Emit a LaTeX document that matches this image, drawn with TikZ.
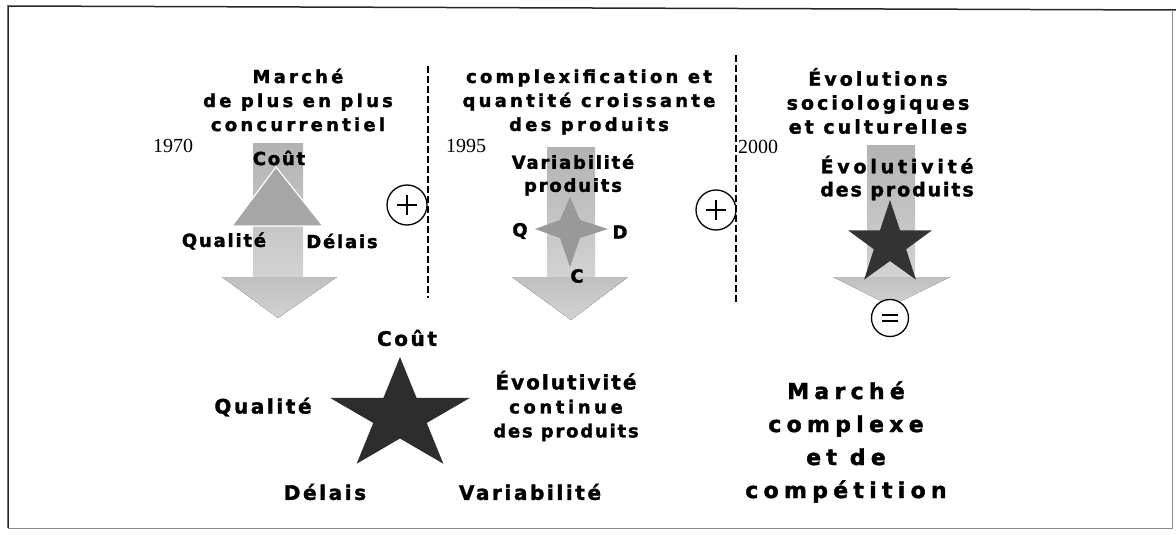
\documentclass[tikz,border=0pt]{standalone}
\usepackage{fontspec}
\setmainfont{Liberation Serif}
\newfontfamily\heavyA{DejaVu Sans}[UprightFont=* Bold, LetterSpace=18, FakeBold=1.6]
\newfontfamily\heavyB{DejaVu Sans}[UprightFont=* Bold, LetterSpace=10, FakeBold=1.6]
\newfontfamily\heavyC{DejaVu Sans}[UprightFont=* Bold, LetterSpace=13, FakeBold=1.6]
\newfontfamily\heavyD{DejaVu Sans}[UprightFont=* Bold, LetterSpace=24, FakeBold=1.8]
\newfontfamily\heavyE{DejaVu Sans}[UprightFont=* Bold, LetterSpace=16, FakeBold=1.6]
\newfontfamily\heavyF{DejaVu Sans}[UprightFont=* Bold, LetterSpace=20, FakeBold=1.6]
\newfontfamily\heavyG{DejaVu Sans}[UprightFont=* Bold, LetterSpace=20, FakeBold=1.6]
\newfontfamily\timesf{Liberation Serif}
\begin{document}
\begin{tikzpicture}[x=1pt,y=-1pt,
  title/.style={font=\heavyA\fontsize{18}{24}\selectfont, align=center, inner sep=0pt},
  titlethree/.style={font=\heavyE\fontsize{19}{24}\selectfont, align=center, inner sep=0pt},
  lbl/.style={font=\heavyB\fontsize{18}{23}\selectfont, align=center, inner sep=0pt},
  lblthree/.style={font=\heavyF\fontsize{19}{23}\selectfont, align=center, inner sep=0pt},
  big/.style={font=\heavyC\fontsize{20}{24}\selectfont, align=center, inner sep=0pt},
  huge/.style={font=\heavyD\fontsize{22}{33}\selectfont, align=center, inner sep=0pt},
  year/.style={font=\timesf\fontsize{20}{22}\selectfont, inner sep=0pt},
  shaft/.style={top color=gray!60, bottom color=gray!35, draw=none},
  head/.style={top color=gray!50, bottom color=gray!35, draw=none},
  sep/.style={line width=1.6pt, dash pattern=on 7pt off 3pt},
  opcircle/.style={circle, draw, line width=1.3pt, minimum size=40pt, inner sep=0pt}
]
\useasboundingbox (0,0) rectangle (1176,535);
% frame
\draw[line width=1.5pt, black!85] (8,528) -- (8,6) -- (1176,10);
\draw[line width=1pt, black!45] (8,528) -- (1172,528) -- (1172,10);

% separators
\coordinate (s1a) at (428,66);
\coordinate (s1b) at (428,298);
\coordinate (s2a) at (736,55);
\coordinate (s2b) at (736,305);
\draw[sep] (s1a) -- (s1b);
\draw[sep] (s2a) -- (s2b);

% ===== panel 1 =====
\fill[shaft] (253,143) rectangle (303,277);
\fill[head] (222,277) -- (337,277) -- (278,318) -- cycle;
\filldraw[fill=gray!70, draw=white, line width=1.2pt] (276,167) -- (323,226) -- (232,226) -- cycle;
\node[title] (t1) at (298,100) {Marché\\de plus en plus\\concurrentiel};
\node[year] (y1) at (173,146) {1970};
\node[lbl] (c1) at (279,158) {Coût};
\node[lbl] (q1) at (224,241) {Qualité};
\node[lbl] (d1) at (342,241) {Délais};
\node[opcircle] (p1) at (407,205) {};
\draw[line width=1.3pt] ([xshift=-10pt]p1.center) -- ([xshift=10pt]p1.center);
\draw[line width=1.3pt] ([yshift=-10pt]p1.center) -- ([yshift=10pt]p1.center);

% ===== panel 2 =====
\fill[shaft] (547,147) rectangle (595,277);
\fill[head] (512,277) -- (628,277) -- (571,320) -- cycle;
\fill[gray!80] (535,229) -- (560,220) -- (570,197) -- (580,220) -- (608,229) -- (580,238) -- (570,267) -- (560,238) -- cycle;
\node[title] (t2) at (589,102) {complexification et\\quantité croissante\\des produits};
\node[year] (y2) at (466,146) {1995};
\node[lbl] (v2) at (573,175) {Variabilité\\produits};
\node[lbl] (q2) at (520,231) {Q};
\node[lbl] (d2) at (620,232) {D};
\node[lbl] (k2) at (577,276) {C};
\node[opcircle] (p2) at (716,210) {};
\draw[line width=1.3pt] ([xshift=-10pt]p2.center) -- ([xshift=10pt]p2.center);
\draw[line width=1.3pt] ([yshift=-10pt]p2.center) -- ([yshift=10pt]p2.center);

% ===== panel 3 =====
\fill[shaft] (867,145) rectangle (915,277);
\fill[head] (833,277) -- (950,277) -- (891,306) -- cycle;
\begin{scope}[shift={(890,244)}]
  \fill[gray!40!black] (90:44pt) -- (126:17pt) -- (162:44pt) -- (198:17pt) -- (234:44pt) -- (270:17pt) -- (306:44pt) -- (342:17pt) -- (18:44pt) -- (54:17pt) -- cycle;
\end{scope}
\node[titlethree] (t3) at (878,101) {Évolutions\\sociologiques\\et culturelles};
\node[year] (y3) at (758,147) {2000};
\node[lblthree] (e3) at (897,178) {Évolutivité\\{\heavyB\fontsize{19}{23}\selectfont des produits}};
\node[opcircle, minimum size=37pt, fill=white] (eq) at (890,318) {};
\draw[line width=1.2pt] ([xshift=-8pt,yshift=-3pt]eq.center) -- ([xshift=8pt,yshift=-3pt]eq.center);
\draw[line width=1.2pt] ([xshift=-8pt,yshift=3pt]eq.center) -- ([xshift=8pt,yshift=3pt]eq.center);

% ===== bottom star =====
\begin{scope}[shift={(400,416)}, xscale=1.25]
  \fill[gray!35!black] (90:59pt) -- (126:22.5pt) -- (162:59pt) -- (198:22.5pt) -- (234:59pt) -- (270:22.5pt) -- (306:59pt) -- (342:22.5pt) -- (18:59pt) -- (54:22.5pt) -- cycle;
\end{scope}
\node[big] (cb) at (407,338) {Coût};
\node[big] (qb) at (263,407) {Qualité};
\node[big] (db) at (325,492) {Délais};
\node[big] (vb) at (530,492) {Variabilité};
\node[big, font=\heavyB\fontsize{20}{24}\selectfont] (eb) at (566,406) {Évolutivité\\{\heavyG\fontsize{18}{24}\selectfont continue}\\{\heavyB\fontsize{18}{24}\selectfont des produits}};
\node[huge] (mb) at (846,442) {Marché\\complexe\\et de\\compétition};
\end{tikzpicture}
\end{document}
